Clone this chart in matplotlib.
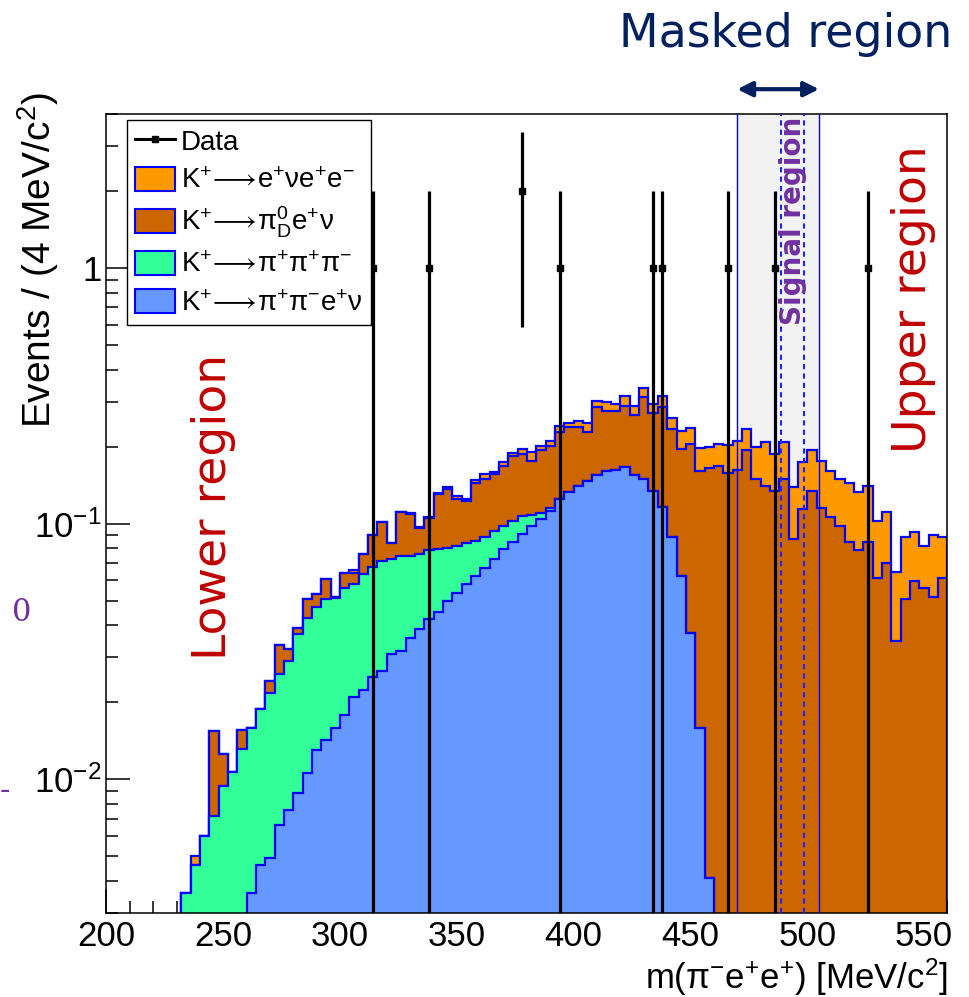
import numpy as np
import matplotlib.pyplot as plt
from matplotlib.patches import Patch
from matplotlib.lines import Line2D
from matplotlib.ticker import FixedLocator, MultipleLocator, LogLocator, NullFormatter

plt.rcParams['font.family'] = ['Liberation Sans', 'DejaVu Sans']
plt.rcParams['mathtext.fontset'] = 'custom'
plt.rcParams['mathtext.rm'] = 'Liberation Sans'
plt.rcParams['mathtext.it'] = 'Liberation Sans:italic'
plt.rcParams['mathtext.bf'] = 'Liberation Sans:bold'
plt.rcParams['mathtext.fallback'] = 'stixsans'

# 4 MeV bins, from 232 up to 560 MeV/c^2 (nothing below 232)
edges = np.arange(232, 561, 4)

# K+ -> pi+ pi- e+ nu
kpipien = [0, 0, 0, 0, 0, 0, 0, 0.0036, 0.0046, 0.0049,
           0.0066, 0.0076, 0.0088, 0.0106, 0.0130, 0.0142, 0.0158, 0.0179, 0.0209, 0.0224,
           0.0251, 0.0264, 0.0309, 0.0318, 0.0358, 0.0388, 0.0423, 0.0453, 0.0497, 0.0535,
           0.0580, 0.0625, 0.0668, 0.0726, 0.0794, 0.0849, 0.0910, 0.0980, 0.1040, 0.1120,
           0.1247, 0.1330, 0.1405, 0.1470, 0.1550, 0.1610, 0.1625, 0.1660, 0.1550, 0.1500,
           0.1344, 0.1157, 0.0883, 0.0621, 0.0373, 0.0159, 0.0041, 0, 0, 0,
           0, 0, 0, 0, 0, 0, 0, 0, 0, 0,
           0, 0, 0, 0, 0, 0, 0, 0, 0, 0,
           0, 0]

# K+ -> pi+ pi+ pi-
k3pi = [0.0036, 0.0046, 0.0060, 0.0072, 0.0094, 0.0107, 0.0131, 0.0122, 0.0142, 0.0169,
        0.0192, 0.0214, 0.0282, 0.0320, 0.0340, 0.0364, 0.0352, 0.0381, 0.0371, 0.0410,
        0.0423, 0.0451, 0.0421, 0.0427, 0.0386, 0.0372, 0.0367, 0.0342, 0.0303, 0.0279,
        0.0260, 0.0232, 0.0222, 0.0211, 0.0186, 0.0177, 0.0157, 0.0100, 0.0060, 0.0027,
        0, 0, 0, 0, 0, 0, 0, 0, 0, 0,
        0, 0, 0, 0, 0, 0, 0, 0, 0, 0,
        0, 0, 0, 0, 0, 0, 0, 0, 0, 0,
        0, 0, 0, 0, 0, 0, 0, 0, 0, 0,
        0, 0]

# K+ -> pi0_D e+ nu
kpi0den = [0, 0, 0, 0.0083, 0.0031, 0, 0.0025, 0, 0, 0.0025,
           0.0078, 0.0033, 0.0022, 0.0080, 0.0060, 0.0101, 0.0004, 0.0080, 0.0060, 0.0126,
           0.0226, 0.0295, 0.0110, 0.0361, 0.0346, 0.0197, 0.0260, 0.0505, 0.0564, 0.0436,
           0.0380, 0.0583, 0.0610, 0.0619, 0.0700, 0.0804, 0.0803, 0.0680, 0.0845, 0.0858,
           0.1028, 0.1048, 0.0973, 0.0818, 0.1300, 0.1150, 0.1135, 0.1230, 0.1110, 0.1620,
           0.1363, 0.1693, 0.1461, 0.1335, 0.1673, 0.1451, 0.1603, 0.1683, 0.1575, 0.1625,
           0.1935, 0.1494, 0.1400, 0.1343, 0.1500, 0.0870, 0.1140, 0.1343, 0.1155, 0.1057,
           0.0980, 0.0844, 0.0789, 0.0844, 0.0610, 0.0700, 0.0348, 0.0506, 0.0597, 0.0558,
           0.0514, 0.0610]

# K+ -> e+ nu e+ e-
kenuee = [0, 0.0004, 0, 0, 0, 0, 0, 0, 0, 0,
          0, 0, 0, 0, 0, 0, 0, 0, 0.0020, 0,
          0, 0, 0, 0, 0.0010, 0.0009, 0.0007, 0.0020, 0.0022, 0.0027,
          0.0027, 0.0040, 0.0060, 0.0040, 0.0055, 0.0060, 0.0090, 0.0150, 0.0070, 0.0105,
          0.0125, 0.0092, 0.0147, 0.0182, 0.0167, 0.0240, 0.0177, 0.0260, 0.0215, 0.0260,
          0.0230, 0.0300, 0.0236, 0.0354, 0.0311, 0.0360, 0.0352, 0.0363, 0.0455, 0.0485,
          0.0409, 0.0502, 0.0680, 0.0527, 0.0590, 0.0523, 0.0606, 0.0592, 0.0605, 0.0553,
          0.0514, 0.0596, 0.0536, 0.0554, 0.0416, 0.0410, 0.0300, 0.0377, 0.0332, 0.0256,
          0.0386, 0.0273]

# observed events
data_mass = [314, 338, 378, 394, 434, 438, 466, 486, 526]
data_counts = [1, 1, 2, 1, 1, 1, 1, 1, 1]

masked = (470, 505)
signal = (488.7, 498.7)

c_enuee = '#ff9900'
c_pi0d = '#cc6600'
c_3pi = '#33ff99'
c_pipien = '#6699ff'
c_line = '#0000ff'

fig = plt.figure(figsize=(9.69, 9.97), dpi=100)
ax = fig.add_axes([0.1099, 0.0843, 0.8679, 0.8014])

ax.axvspan(masked[0], masked[1], color='#f2f2f2', zorder=0)

# stacked histogram, drawn from the top layer down like THStack
s1 = np.array(kpipien)
s2 = s1 + np.array(k3pi)
s3 = s2 + np.array(kpi0den)
s4 = s3 + np.array(kenuee)
floor = 1e-5
for vals, col in [(s4, c_enuee), (s3, c_pi0d), (s2, c_3pi), (s1, c_pipien)]:
    ax.stairs(np.clip(vals, floor, None), edges, baseline=floor, fill=True,
              facecolor=col, edgecolor=c_line, linewidth=1.6, zorder=2)

for m in masked:
    ax.axvline(m, color=c_line, lw=1.0, zorder=3)
for m in signal:
    ax.axvline(m, color='#2222ff', lw=1.5, ls=(0, (2.5, 2)), zorder=3)

# data with sqrt(N) errors
dm = np.array(data_mass, dtype=float)
dn = np.array(data_counts, dtype=float)
err = np.sqrt(dn)
ax.vlines(dm, np.clip(dn - err, floor, None), dn + err, color='k', lw=2.3, zorder=5)
ax.plot(dm, dn, 's', color='k', ms=5, zorder=6)

ax.set_xlim(200, 560)
ax.set_yscale('log')
ax.set_ylim(0.003, 4.0)

ax.xaxis.set_major_locator(FixedLocator([200, 250, 300, 350, 400, 450, 500, 550]))
ax.xaxis.set_minor_locator(MultipleLocator(10))
ax.yaxis.set_major_locator(FixedLocator([0.01, 0.1, 1]))
ax.set_yticklabels(['$10^{-2}$', '$10^{-1}$', '1'])
ax.yaxis.set_minor_locator(LogLocator(base=10, subs=np.arange(2, 10)))
ax.yaxis.set_minor_formatter(NullFormatter())
ax.tick_params(which='both', direction='in', top=False, right=False, width=1.1, labelsize=25)
ax.tick_params(axis='x', which='major', pad=5)
ax.tick_params(which='major', length=17)
ax.tick_params(which='minor', length=8.5)
for sp in ax.spines.values():
    sp.set_linewidth(1.1)

fig.text(38 / 969, 1 - 92 / 997, 'Events / (4 MeV/c$^{2}$)', rotation=90,
         ha='center', va='top', fontsize=28)
fig.text(948 / 969, 1 - 989 / 997, r'm($\mathrm{\pi^{-}}$e$^{+}$e$^{+}$) [MeV/c$^{2}$]',
         ha='right', va='baseline', fontsize=25)

handles = [Line2D([0], [0], color='k', lw=2.2, marker='s', ms=5),
           Patch(facecolor=c_enuee, edgecolor=c_line, lw=1.5),
           Patch(facecolor=c_pi0d, edgecolor=c_line, lw=1.5),
           Patch(facecolor=c_3pi, edgecolor=c_line, lw=1.5),
           Patch(facecolor=c_pipien, edgecolor=c_line, lw=1.5)]
labels = ['Data',
          r'$\mathrm{K^{+}\!\longrightarrow\!e^{+}\nu e^{+}e^{-}}$',
          r'$\mathrm{K^{+}\!\longrightarrow\!\pi^{0}_{D}e^{+}\nu}$',
          r'$\mathrm{K^{+}\!\longrightarrow\!\pi^{+}\pi^{+}\pi^{-}}$',
          r'$\mathrm{K^{+}\!\longrightarrow\!\pi^{+}\pi^{-}e^{+}\nu}$']
leg = ax.legend(handles, labels, loc='upper left', bbox_to_anchor=(127 / 969, 1 - 120 / 997),
                bbox_transform=fig.transFigure, borderaxespad=0, fontsize=20,
                handlelength=1.44, handleheight=0.97, handletextpad=0.2,
                labelspacing=0.38, borderpad=0.3, fancybox=False, framealpha=1)
leg.get_frame().set_edgecolor('k')
leg.get_frame().set_linewidth(1.0)
leg.set_zorder(10)

# slide annotations
fig.text(952 / 969, 1 - 47 / 997, 'Masked region', ha='right', va='baseline',
         fontsize=33, color='#002060', family='DejaVu Sans')
ax.annotate('', xy=(masked[0], 1.031), xycoords=('data', 'axes fraction'),
            xytext=(masked[1], 1.031), textcoords=('data', 'axes fraction'),
            arrowprops=dict(arrowstyle='<|-|>', color='#002060', lw=3, mutation_scale=22,
                            shrinkA=0, shrinkB=0), annotation_clip=False)
fig.text(213 / 969, 1 - 507 / 997, 'Lower region', rotation=90, ha='center', va='center',
         fontsize=34, color='#c00000', family='DejaVu Sans')
fig.text(914 / 969, 1 - 299 / 997, 'Upper region', rotation=90, ha='center', va='center',
         fontsize=34, color='#c00000', family='DejaVu Sans')
fig.text(793 / 969, 1 - 221 / 997, 'Signal region', rotation=90, ha='center', va='center',
         fontsize=20, color='#7030a0', family='DejaVu Sans', fontweight='bold')
fig.text(22 / 969, 1 - 612 / 997, '0', ha='center', va='center', fontsize=22,
         color='#7030a0', family='DejaVu Serif')
fig.text(0.0, 1 - 790 / 997, '-', ha='left', va='center', fontsize=22,
         color='#7030a0', family='DejaVu Serif')

fig.savefig('out.png', dpi=100)
